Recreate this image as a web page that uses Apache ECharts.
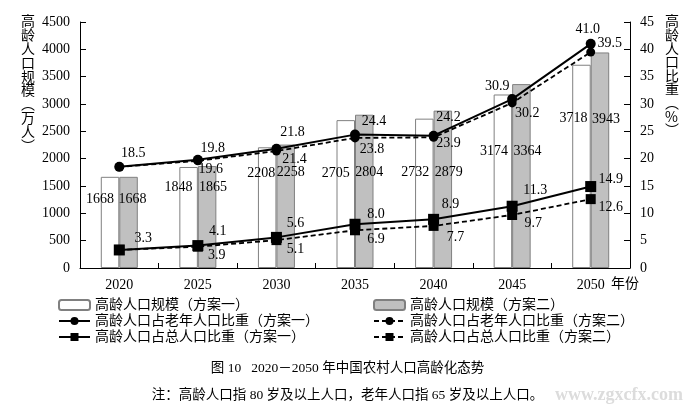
<!DOCTYPE html>
<html><head><meta charset="utf-8">
<script src="https://cdn.jsdelivr.net/npm/echarts@6/dist/echarts.min.js"></script>
<style>html,body{margin:0;padding:0;background:#fff}#c{width:695px;height:413px}</style>
</head><body><div id="c"></div>
<script>
const years = ['2020','2025','2030','2035','2040','2045','2050'];
const scaleA = [1668,1848,2208,2705,2732,3174,3718];
const scaleB = [1668,1865,2258,2804,2879,3364,3943];
const elderA = [18.5,19.8,21.8,24.4,24.2,30.9,41.0];
const elderB = [18.5,19.6,21.4,23.8,23.9,30.2,39.5];
const totalA = [3.3,4.1,5.6,8.0,8.9,11.3,14.9];
const totalB = [3.3,3.9,5.1,6.9,7.7,9.7,12.6];
const leftTicks = [0,4500,500];
const rightTicks = [0,45,5];

// label placement (layout only)
const scaleALabelOff = [[-10,23],[-10,20],[-6,26],[-10,53],[-9,54],[-9,57],[-8,54]];
const scaleBLabelOff = [[4,23],[6,21],[5,28],[5,58],[6,62],[6,67],[6,67]];
const elderALabelOff = [[14,-14],[15,-11],[16,-16],[19,-13],[15,-18],[-15,-13],[-3,-15]];
const elderBLabelOff = [null,[13,8],[18,8],[17,11],[15,6],[15,10],[19,-9]];
const totalALabelOff = [[24,-12],[20,-14],[19,-14],[21,-10],[17,-15],[23,-16],[20,-7]];
const totalBLabelOff = [null,[19,9],[19,9],[21,9],[22,11],[21,8],[20,8]];

const FONT = "'Liberation Serif','Noto Sans CJK SC',serif";
const CJK = "'Liberation Serif','Noto Sans CJK SC',sans-serif";
const VCJK = "'Noto Sans CJK SC',sans-serif";
const numLabel = {color:'#000', fontFamily: FONT, fontSize: 14};

function barData(vals, offs){
  return vals.map((v,i)=>({value:v, label:{show:true, position:['50%',0], align:'center', verticalAlign:'middle', offset:offs[i], ...numLabel}}));
}
function lineData(vals, offs){
  return vals.map((v,i)=>({value:v, label: offs[i] ? {show:true, position:'inside', offset:offs[i], ...numLabel, formatter: ()=>v.toFixed(1)} : {show:false}}));
}

const chart = echarts.init(document.getElementById('c'), null, {renderer:'canvas'});
const axisLineStyle = {show:true, lineStyle:{color:'#000', width:1}};
chart.setOption({
  animation:false,
  backgroundColor:'#fff',
  grid:{left:80, right:65, top:22, bottom:145, containLabel:false},
  legend:[
    {orient:'vertical', left:58, top:298, padding:0, itemWidth:31, itemHeight:10, itemGap:2, itemTextGap:4,
     textStyle:{fontFamily:CJK, fontSize:14, color:'#000', lineHeight:14},
     data:['高龄人口规模（方案一）','高龄人口占老年人口比重（方案一）','高龄人口占总人口比重（方案一）']},
    {orient:'vertical', left:373, top:298, padding:0, itemWidth:31, itemHeight:10, itemGap:2, itemTextGap:5,
     textStyle:{fontFamily:CJK, fontSize:14, color:'#000', lineHeight:14},
     data:['高龄人口规模（方案二）','高龄人口占老年人口比重（方案二）','高龄人口占总人口比重（方案二）']}
  ],
  xAxis:{type:'category', data:years, boundaryGap:true,
    axisLine:axisLineStyle,
    axisTick:{show:true, inside:true, length:5, lineStyle:{color:'#000'}},
    axisLabel:{color:'#000', fontFamily:FONT, fontSize:14, margin:10}},
  yAxis:[
    {type:'value', min:leftTicks[0], max:leftTicks[1], interval:leftTicks[2],
     axisLine:axisLineStyle, axisTick:{show:true, inside:true, length:6, lineStyle:{color:'#000'}},
     splitLine:{show:false}, axisLabel:{color:'#000', fontFamily:FONT, fontSize:14, margin:10, formatter:v=>String(v)}},
    {type:'value', min:rightTicks[0], max:rightTicks[1], interval:rightTicks[2], position:'right',
     axisLine:axisLineStyle, axisTick:{show:true, inside:true, length:6, lineStyle:{color:'#000'}},
     splitLine:{show:false}, axisLabel:{color:'#000', fontFamily:FONT, fontSize:14, margin:10, formatter:v=>String(v)}}
  ],
  series:[
    {name:'高龄人口规模（方案一）', type:'bar', barWidth:18.5, barGap:'0%',
     itemStyle:{color:'#fff', borderColor:'#808080', borderWidth:1}, data:barData(scaleA, scaleALabelOff), z:2},
    {name:'高龄人口规模（方案二）', type:'bar', barWidth:18.5, barGap:'0%',
     itemStyle:{color:'#c0c0c0', borderColor:'#808080', borderWidth:1}, data:barData(scaleB, scaleBLabelOff), z:2},
    {name:'高龄人口占老年人口比重（方案一）', type:'line', yAxisIndex:1, symbol:'circle', symbolSize:10,
     itemStyle:{color:'#000'}, lineStyle:{color:'#000', width:2}, data:lineData(elderA, elderALabelOff), z:5},
    {name:'高龄人口占老年人口比重（方案二）', type:'line', yAxisIndex:1, symbol:'circle', symbolSize:9,
     itemStyle:{color:'#000'}, lineStyle:{color:'#000', width:1.8, type:[5,3]}, data:lineData(elderB, elderBLabelOff), z:4},
    {name:'高龄人口占总人口比重（方案一）', type:'line', yAxisIndex:1, symbol:'rect', symbolSize:11,
     itemStyle:{color:'#000'}, lineStyle:{color:'#000', width:2}, data:lineData(totalA, totalALabelOff), z:5},
    {name:'高龄人口占总人口比重（方案二）', type:'line', yAxisIndex:1, symbol:'rect', symbolSize:10,
     itemStyle:{color:'#000'}, lineStyle:{color:'#000', width:1.8, type:[5,3]}, data:lineData(totalB, totalBLabelOff), z:4}
  ],
  graphic:[
    {type:'text', left:21, top:14, style:{text:'高龄人口规模︵万人︶'.split('').join('\n'), fontFamily:VCJK, fontSize:14, lineHeight:13.8, fill:'#000', align:'center'}},
    {type:'text', left:665, top:14, style:{text:'高龄人口比重︵%︶'.split('').join('\n'), fontFamily:VCJK, fontSize:14, lineHeight:13.6, fill:'#000', align:'center'}},
    {type:'text', left:611, top:277, style:{text:'年份', fontFamily:CJK, fontSize:14, fill:'#000'}},
    {type:'text', left:'center', top:362, style:{text:'图 10   2020－2050 年中国农村人口高龄化态势', fontFamily:CJK, fontSize:13.5, fill:'#000'}},
    {type:'text', left:'center', top:389, style:{text:'注：高龄人口指 80 岁及以上人口，老年人口指 65 岁及以上人口。', fontFamily:CJK, fontSize:13.5, fill:'#000'}},
    {type:'text', left:555, top:386, style:{text:'www.zgxcfx.com', fontFamily:FONT, fontSize:18, fontWeight:'bold', fill:'#dcdcdc'}}
  ]
});
</script></body></html>
